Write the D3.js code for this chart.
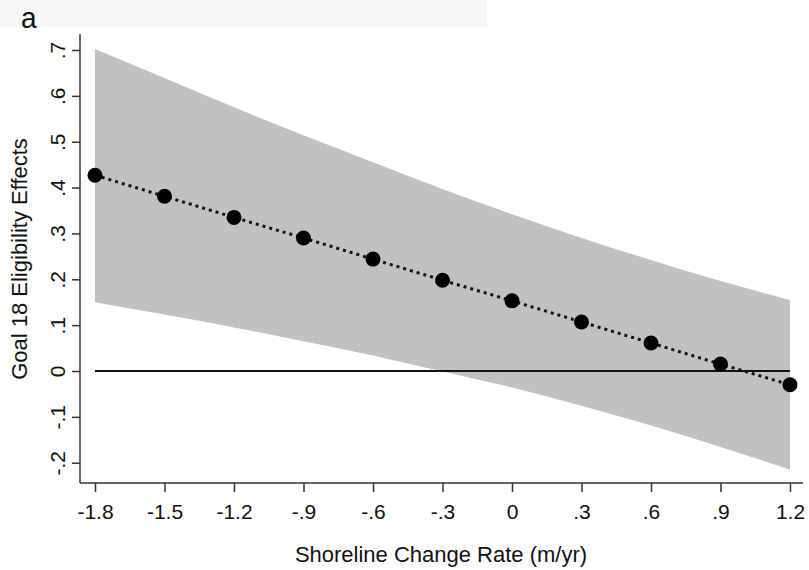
<!DOCTYPE html>
<html><head><meta charset="utf-8">
<script src="https://cdn.jsdelivr.net/npm/d3@7"></script>
<style>body{margin:0;background:#fff}svg{display:block}text{font-family:"Liberation Sans",Arial,sans-serif;fill:#111}</style>
</head><body><svg id="c" width="809" height="570"></svg>
<script>
const xValues = [-1.8,-1.5,-1.2,-0.9,-0.6,-0.3,0,0.3,0.6,0.9,1.2];
const effects = [0.427,0.381,0.335,0.290,0.244,0.198,0.153,0.107,0.061,0.015,-0.030];
const upperCI = [0.702,0.639,0.575,0.514,0.455,0.397,0.342,0.290,0.242,0.196,0.155];
const lowerCI = [0.150,0.123,0.095,0.065,0.034,-0.001,-0.036,-0.076,-0.119,-0.166,-0.215];
const xTicks = [-1.8,-1.5,-1.2,-0.9,-0.6,-0.3,0,0.3,0.6,0.9,1.2];
const xTickLabels = ["-1.8","-1.5","-1.2","-.9","-.6","-.3","0",".3",".6",".9","1.2"];
const yTicks = [-0.2,-0.1,0,0.1,0.2,0.3,0.4,0.5,0.6,0.7];
const yTickLabels = ["-.2","-.1","0",".1",".2",".3",".4",".5",".6",".7"];

const svg = d3.select("#c");
const x = d3.scaleLinear().domain([-1.8,1.2]).range([95,790]);
const y = d3.scaleLinear().domain([0,0.7]).range([371,50]);

// header strip
svg.append("rect").attr("x",0).attr("y",0).attr("width",487).attr("height",27).attr("fill","#f7f7f7");
svg.append("text").attr("x",21).attr("y",28).attr("font-size",28)
  .attr("transform","translate(21,28) scale(1,1.08) translate(-21,-28)").text("a");

const data = xValues.map((v,i)=>({x:v,y:effects[i],u:upperCI[i],l:lowerCI[i]}));

svg.append("path").datum(data)
  .attr("d", d3.area().x(d=>x(d.x)).y0(d=>y(d.l)).y1(d=>y(d.u)).curve(d3.curveMonotoneX))
  .attr("fill","#c1c1c1");

svg.append("line").attr("x1",x(-1.8)).attr("x2",x(1.2)).attr("y1",y(0)).attr("y2",y(0))
  .attr("stroke","#111").attr("stroke-width",2);

svg.append("path").datum(data)
  .attr("d", d3.line().x(d=>x(d.x)).y(d=>y(d.y)))
  .attr("fill","none").attr("stroke","#111").attr("stroke-width",3).attr("stroke-dasharray","3,4");

svg.selectAll("circle.pt").data(data).enter().append("circle")
  .attr("cx",d=>x(d.x)).attr("cy",d=>y(d.y)).attr("r",7.5).attr("fill","#000");

// axes
const xAxis = d3.axisBottom(x).tickValues(xTicks).tickFormat((d,i)=>xTickLabels[i]).tickSize(9).tickSizeOuter(0);
const gx = svg.append("g").attr("transform","translate(0,483)").call(xAxis);
gx.select(".domain").attr("d","M80,0H803").attr("stroke","#333").attr("stroke-width",1.5);
gx.selectAll(".tick line").attr("stroke","#333").attr("stroke-width",1.5);
gx.selectAll(".tick text").attr("font-size",21).attr("fill","#111").attr("dy",0).attr("y",36)
  .style("font-family","'Liberation Sans',Arial,sans-serif");

const yAxis = d3.axisLeft(y).tickValues(yTicks).tickFormat((d,i)=>yTickLabels[i]).tickSize(8).tickSizeOuter(0);
const gy = svg.append("g").attr("transform","translate(80,0)").call(yAxis);
gy.select(".domain").attr("d","M0,34V483").attr("stroke","#333").attr("stroke-width",1.5);
gy.selectAll(".tick line").attr("stroke","#333").attr("stroke-width",1.5);
gy.selectAll(".tick text").attr("font-size",21).attr("fill","#111")
  .attr("x",null).attr("dy",null)
  .attr("transform","translate(-23,0) rotate(-90)")
  .attr("text-anchor","middle").attr("dominant-baseline","central")
  .style("font-family","'Liberation Sans',Arial,sans-serif");

svg.append("text").attr("transform","translate(19,259) rotate(-90)").attr("text-anchor","middle")
  .attr("dominant-baseline","central").attr("font-size",22).text("Goal 18 Eligibility Effects");
svg.append("text").attr("x",441).attr("y",562).attr("text-anchor","middle").attr("font-size",22)
  .text("Shoreline Change Rate (m/yr)");
</script></body></html>
